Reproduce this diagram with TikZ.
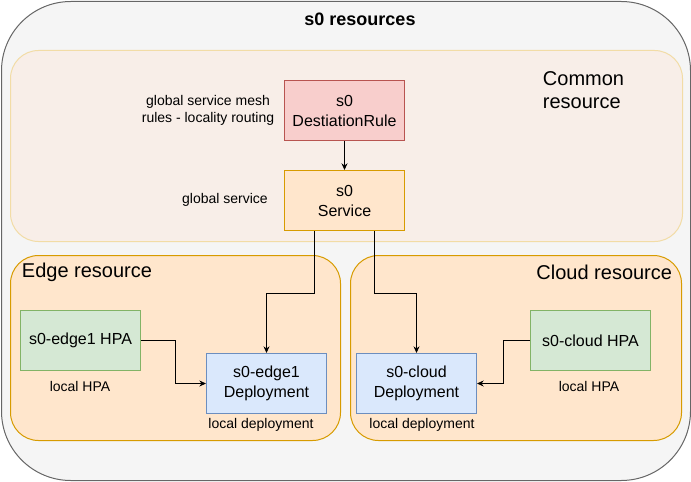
\documentclass[tikz,border=0pt]{standalone}
\usepackage{fontspec}
\setmainfont{Liberation Sans}
\usetikzlibrary{arrows.meta}
\definecolor{outerfill}{HTML}{F5F5F5}
\definecolor{outerline}{HTML}{666666}
\definecolor{commonfill}{HTML}{F8EEE8}
\definecolor{commonline}{HTML}{F2DCA6}
\definecolor{sitefill}{HTML}{FFE6CC}
\definecolor{siteline}{HTML}{D79B00}
\definecolor{rulefill}{HTML}{F8CECC}
\definecolor{ruleline}{HTML}{B85450}
\definecolor{hpafill}{HTML}{D5E8D4}
\definecolor{hpaline}{HTML}{82B366}
\definecolor{depfill}{HTML}{DAE8FC}
\definecolor{depline}{HTML}{6C8EBF}
\begin{document}
\begin{tikzpicture}[x=0.75pt,y=-0.75pt,line width=0.75pt,
  region/.style={draw,anchor=north west,inner sep=0pt,rounded corners=21pt},
  res/.style={draw,anchor=north west,inner sep=0pt,minimum width=90pt,minimum height=45pt,
    align=center,font=\fontsize{12}{15}\selectfont},
  note/.style={align=center,font=\fontsize{10.5}{12.75}\selectfont},
  head/.style={font=\fontsize{15}{17.25}\selectfont},
  link/.style={sharp corners,-{Stealth[length=5pt,width=4.5pt]}}]
  \useasboundingbox (0,0) rectangle (691,481);
  % containers
  \node[region,fill=outerfill,draw=outerline,rounded corners=52pt,
    minimum width=516.75pt,minimum height=359.25pt] (all) at (1,1) {};
  \node[font=\bfseries\fontsize{13.5}{16}\selectfont] (title) at (360,19) {s0 resources};
  \node[region,fill=commonfill,draw=commonline,minimum width=504pt,minimum height=143.25pt] (common) at (10,50) {};
  \node[head,align=left,anchor=west] (commonlbl) at (538,90) {Common\\resource};
  \node[region,fill=sitefill,draw=siteline,minimum width=247.5pt,minimum height=138.75pt] (edge) at (10,255) {};
  \node[head,anchor=west] (edgelbl) at (17,272) {Edge resource};
  \node[region,fill=sitefill,draw=siteline,minimum width=248.25pt,minimum height=138.75pt] (cloud) at (350,255) {};
  \node[head,anchor=east] (cloudlbl) at (677,272) {Cloud resource};
  % resources
  \node[res,fill=rulefill,draw=ruleline] (rule) at (284,80) {s0\\DestiationRule};
  \node[res,fill=sitefill,draw=siteline] (svc) at (284,170) {s0\\Service};
  \node[res,fill=hpafill,draw=hpaline] (edgehpa) at (20,310) {s0-edge1 HPA};
  \node[res,fill=depfill,draw=depline] (edgedep) at (206,353) {s0-edge1\\Deployment};
  \node[res,fill=depfill,draw=depline] (clouddep) at (356,353) {s0-cloud\\Deployment};
  \node[res,fill=hpafill,draw=hpaline] (cloudhpa) at (530,310) {s0-cloud HPA};
  % notes
  \node[note] (rulenote) at (208,110) {global service mesh\\rules - locality routing};
  \node[note] (svcnote) at (225,200) {global service};
  \node[note] (edgehpanote) at (80,386) {local HPA};
  \node[note] (cloudhpanote) at (589,386) {local HPA};
  \node[note] (edgedepnote) at (261,425) {local deployment};
  \node[note] (clouddepnote) at (422,425) {local deployment};
  % links
  \draw[link] (rule) -- (svc);
  \draw[link] ([xshift=-22.5pt]svc.south) -- ++(0,62) -| (edgedep.north);
  \draw[link] ([xshift=22.5pt]svc.south) -- ++(0,62) -| (clouddep.north);
  \draw[link] (edgehpa.east) -- ++(34,0) |- (edgedep.west);
  \draw[link] (cloudhpa.west) -- ++(-27,0) |- (clouddep.east);
\end{tikzpicture}
\end{document}
